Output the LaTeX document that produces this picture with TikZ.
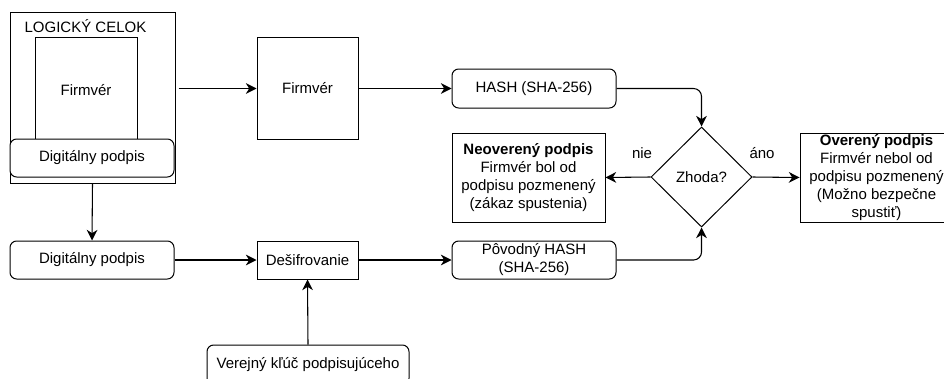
\documentclass[tikz,border=0pt]{standalone}
\usepackage{fontspec}
\setmainfont{Liberation Sans}
\usepackage{tikz}
\usetikzlibrary{arrows.meta}
\usetikzlibrary{shapes.geometric}
\tikzstyle{box} = [draw, rectangle, inner sep=0pt, align=center, fill=white, line width=0.75pt, font=\fontsize{11.25}{13.5}\selectfont]
\tikzstyle{rbox} = [box, rounded corners=5pt]
\tikzstyle{lbl} = [inner sep=0pt, font=\fontsize{11.25}{13.5}\selectfont]
\tikzstyle{arrow} = [-{Stealth[length=8pt,width=8pt,inset=2.5pt]}, line width=0.8pt]

\begin{document}
\begin{tikzpicture}[x=0.75pt, y=-0.75pt]
			\useasboundingbox (0, 0) rectangle (944, 378);
			
			\node[box, minimum width=123.75pt, minimum height=127.5pt](celok) at (92.5, 98){};
			\node[lbl](celoklbl) at (85.5, 26){LOGICKÝ CELOK};
			\node[box, minimum width=76.5pt, minimum height=78pt](fw) at (86, 90){Firmvér};
			\node[rbox, minimum width=123pt, minimum height=28.5pt](podpis) at (92, 158){Digitálny podpis};
			
			\node[box, minimum width=75.75pt, minimum height=75.75pt](fw2) at (307.5, 88.5){Firmvér};
			\node[rbox, minimum width=123pt, minimum height=29.25pt](hash) at (534, 88.5){HASH (SHA-256)};
			
			\node[box, diamond, minimum width=75.75pt, minimum height=75pt](zhoda) at (701.5, 177){Zhoda?};
			\node[box, minimum width=114.75pt, minimum height=66.75pt](neo) at (528.5, 177.5){\textbf{Neoverený podpis}\\Firmvér bol od\\podpisu pozmenený\\(zákaz spustenia)};
			\node[box, minimum width=114.75pt, minimum height=66.75pt](ove) at (876.5, 177.5){\textbf{Overený podpis}\\Firmvér nebol od\\podpisu pozmenený\\(Možno bezpečne\\spustiť)};
			\node[lbl](nie) at (642, 153){nie};
			\node[lbl](ano) at (762, 153){áno};
			
			\node[rbox, minimum width=123pt, minimum height=28.5pt](podpis2) at (92, 260){Digitálny podpis};
			\node[box, minimum width=75.75pt, minimum height=28.5pt](desif) at (307.5, 260){Dešifrovanie};
			\node[rbox, minimum width=123pt, minimum height=28.5pt](povodny) at (534, 260){Pôvodný HASH\\(SHA-256)};
			\node[rbox, minimum width=151.5pt, minimum height=30pt](kluc) at (308, 365){Verejný kľúč podpisujúceho};
			
			\draw[arrow, shorten <=2.25pt](celok.east |- fw2) -- (fw2);
			\draw[arrow](fw2) -- (hash);
			\draw[arrow, rounded corners=6pt](hash.east) -| (zhoda.north);
			\draw[arrow](zhoda.west) -- (neo.east);
			\draw[arrow](zhoda.east) -- (ove.west);
			\draw[arrow](celok.south) -- (podpis2.north);
			\draw[arrow](podpis2) -- (desif);
			\draw[arrow](desif) -- (povodny);
			\draw[arrow](kluc.north) -- (desif.south);
			\draw[arrow, rounded corners=6pt](povodny.east) -| (zhoda.south);
		\end{tikzpicture}
\end{document}
